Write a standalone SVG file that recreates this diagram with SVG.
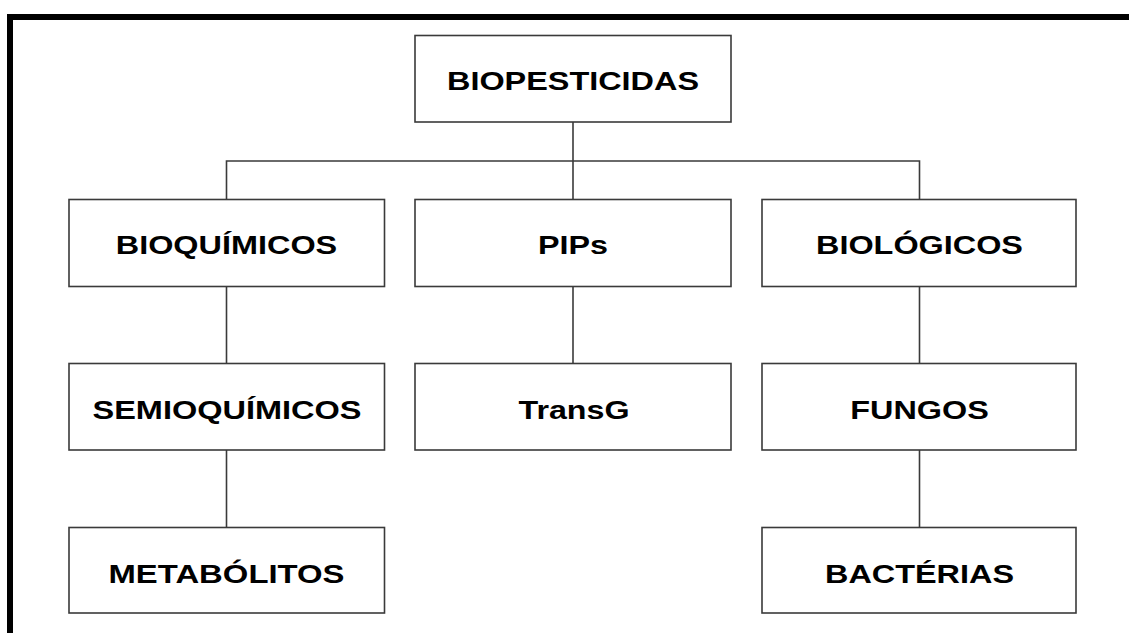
<svg xmlns="http://www.w3.org/2000/svg" width="1129" height="633" viewBox="0 0 1129 633">
<style>
.box{fill:#fff;stroke:#3a3a3a;stroke-width:1.6}
.lbl{font-family:"Liberation Sans",Arial,sans-serif;font-weight:bold;font-size:26.5px;fill:#000;text-anchor:middle}
.con{stroke:#3a3a3a;stroke-width:1.6;fill:none}
</style>
<rect width="1129" height="633" fill="#fff"/>
<path d="M10 633 V17 H1129" fill="none" stroke="#000" stroke-width="6"/>
<g id="connectors" class="con">
<path d="M573 122 V199"/>
<path d="M226.5 199 V161 H919.5 V199"/>
<path d="M226.5 287 V363"/>
<path d="M226.5 450 V527"/>
<path d="M573 287 V363"/>
<path d="M919.5 287 V363"/>
<path d="M919.5 450 V527"/>
</g>
<g id="n-biopesticidas"><rect class="box" x="415" y="35.5" width="316" height="86.5"/><text class="lbl" x="573" y="90" textLength="252" lengthAdjust="spacingAndGlyphs">BIOPESTICIDAS</text></g>
<g id="n-bioquimicos"><rect class="box" x="69" y="199.5" width="315.5" height="87"/><text class="lbl" x="226.5" y="254" textLength="221.5" lengthAdjust="spacingAndGlyphs">BIOQUÍMICOS</text></g>
<g id="n-pips"><rect class="box" x="415" y="199.5" width="316" height="87"/><text class="lbl" x="573" y="254" textLength="70" lengthAdjust="spacingAndGlyphs">PIPs</text></g>
<g id="n-biologicos"><rect class="box" x="762" y="199.5" width="314" height="87"/><text class="lbl" x="919.5" y="254" textLength="207" lengthAdjust="spacingAndGlyphs">BIOLÓGICOS</text></g>
<g id="n-semioquimicos"><rect class="box" x="69" y="363.5" width="315.5" height="86.5"/><text class="lbl" x="227" y="418.5" textLength="269" lengthAdjust="spacingAndGlyphs">SEMIOQUÍMICOS</text></g>
<g id="n-transg"><rect class="box" x="415" y="363.5" width="316" height="86.5"/><text class="lbl" x="574" y="418.5" textLength="111" lengthAdjust="spacingAndGlyphs">TransG</text></g>
<g id="n-fungos"><rect class="box" x="762" y="363.5" width="314" height="86.5"/><text class="lbl" x="919.5" y="418.5" textLength="138.5" lengthAdjust="spacingAndGlyphs">FUNGOS</text></g>
<g id="n-metabolitos"><rect class="box" x="69" y="527.5" width="315.5" height="85.5"/><text class="lbl" x="226.5" y="582.5" textLength="236" lengthAdjust="spacingAndGlyphs">METABÓLITOS</text></g>
<g id="n-bacterias"><rect class="box" x="762" y="527.5" width="314" height="85.5"/><text class="lbl" x="919.5" y="582.5" textLength="189" lengthAdjust="spacingAndGlyphs">BACTÉRIAS</text></g>
</svg>
